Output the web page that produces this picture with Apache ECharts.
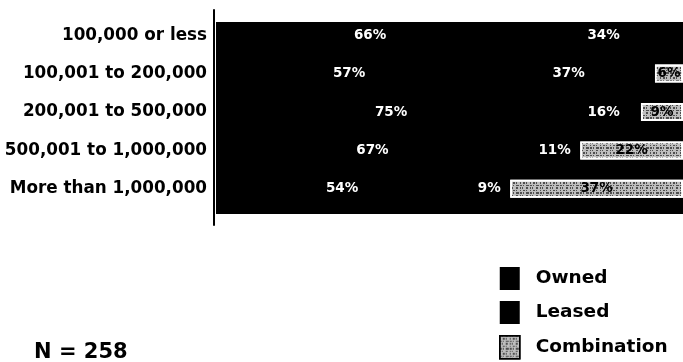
<!DOCTYPE html>
<html>
<head>
<meta charset="utf-8">
<script src="https://cdn.jsdelivr.net/npm/echarts@6/dist/echarts.min.js"></script>
<style>
  html, body { margin: 0; padding: 0; background: #fff; }
  #chart { width: 683px; height: 362px; }
</style>
</head>
<body>
<div id="chart"></div>
<script>
// Facility size bands (rows, top to bottom)
const categories = [
  '100,000 or less',
  '100,001 to 200,000',
  '200,001 to 500,000',
  '500,001 to 1,000,000',
  'More than 1,000,000'
];
// Share of respondents by ownership type, in percent
const owned = [66, 57, 75, 67, 54];
const leased = [34, 37, 16, 11, 9];
const combination = [0, 6, 9, 22, 37];
const sampleNote = 'N = 258';

// Where each combination bar starts along the 0-100 scale
const comboStart = owned.map((v, i) => v + leased[i]);
// Rows without a combination share get no bar at all
const comboValues = combination.map(v => (v > 0 ? v : '-'));

const FONT = '"DejaVu Sans", "Noto Sans", sans-serif';
const pct = p => (p.value > 0 ? p.value + '%' : '');

const comboStyle = {
  color: '#bdbdbd',
  borderColor: '#ffffff',
  borderWidth: 1.8,
  decal: {
    symbol: 'rect',
    symbolSize: 1,
    color: 'rgba(20,20,20,0.65)',
    dashArrayX: [[1, 2, 2, 1, 1, 3], [2, 1, 1, 2, 3, 1], [1, 1, 1, 3, 2, 2]],
    dashArrayY: [1, 1, 2, 1],
    rotation: 0
  }
};

const chart = echarts.init(document.getElementById('chart'), null, { renderer: 'canvas' });

chart.setOption({
  animation: false,
  backgroundColor: '#ffffff',
  textStyle: { fontFamily: FONT },
  title: {
    text: sampleNote,
    left: 29,
    top: 337,
    textStyle: { fontFamily: FONT, fontSize: 21, fontWeight: 'bold', color: '#000' }
  },
  legend: {
    orient: 'vertical',
    left: 499,
    top: 267,
    height: 100,
    padding: 0,
    itemWidth: 20,
    itemHeight: 23,
    itemGap: 11,
    icon: 'rect',
    textStyle: { fontFamily: FONT, fontSize: 18.5, fontWeight: 'bold', color: '#000', padding: [0, 0, 0, 11] },
    data: [
      { name: 'Owned' },
      { name: 'Leased' },
      { name: 'Combination', itemStyle: { borderColor: '#000', borderWidth: 1.5 } }
    ]
  },
  grid: [
    // category labels and combination bars
    { left: 216, width: 468, top: 16, height: 192 },
    // black owned / leased band with its black backing
    { left: 216, width: 468, top: 22, height: 192, show: true, backgroundColor: '#000', borderWidth: 0 },
    // vertical baseline
    { left: 214, width: 1, top: 10, height: 215 }
  ],
  xAxis: [
    { gridIndex: 0, type: 'value', min: 0, max: 100, show: false },
    { gridIndex: 1, type: 'value', min: 0, max: 100, show: false },
    { gridIndex: 2, type: 'value', min: 0, max: 1, show: false }
  ],
  yAxis: [
    {
      gridIndex: 0, type: 'category', data: categories, inverse: true,
      axisLine: { show: false }, axisTick: { show: false },
      axisLabel: { margin: 9, fontFamily: FONT, fontSize: 16.8, fontWeight: 'bold', color: '#000' }
    },
    {
      gridIndex: 1, type: 'category', data: categories, inverse: true,
      axisLine: { show: false }, axisTick: { show: false }, axisLabel: { show: false }
    },
    {
      gridIndex: 2, type: 'category', data: [''],
      axisLine: { show: true, lineStyle: { color: '#000', width: 2 } },
      axisTick: { show: false }, axisLabel: { show: false }
    }
  ],
  series: [
    {
      name: 'Owned', type: 'bar', stack: 'band', xAxisIndex: 1, yAxisIndex: 1,
      data: owned, barCategoryGap: '0%',
      itemStyle: { color: '#000' },
      label: {
        show: true, position: 'inside', offset: [0, -6], formatter: pct,
        color: '#fff', fontFamily: FONT, fontSize: 13.5, fontWeight: 'bold'
      }
    },
    {
      name: 'Leased', type: 'bar', stack: 'band', xAxisIndex: 1, yAxisIndex: 1,
      data: leased, barCategoryGap: '0%',
      itemStyle: { color: '#000' },
      label: {
        show: true, position: 'inside', offset: [0, -6], formatter: pct,
        color: '#fff', fontFamily: FONT, fontSize: 13.5, fontWeight: 'bold'
      }
    },
    {
      name: 'start', type: 'bar', stack: 'combo', xAxisIndex: 0, yAxisIndex: 0,
      data: comboStart, barWidth: 18, silent: true,
      itemStyle: { color: 'rgba(0,0,0,0)' }
    },
    {
      name: 'Combination', type: 'bar', stack: 'combo', xAxisIndex: 0, yAxisIndex: 0,
      data: comboValues, barWidth: 18,
      itemStyle: comboStyle,
      label: {
        show: true, position: 'inside', formatter: pct,
        color: '#000', fontFamily: FONT, fontSize: 13.5, fontWeight: 'bold'
      }
    }
  ]
});
</script>
</body>
</html>
